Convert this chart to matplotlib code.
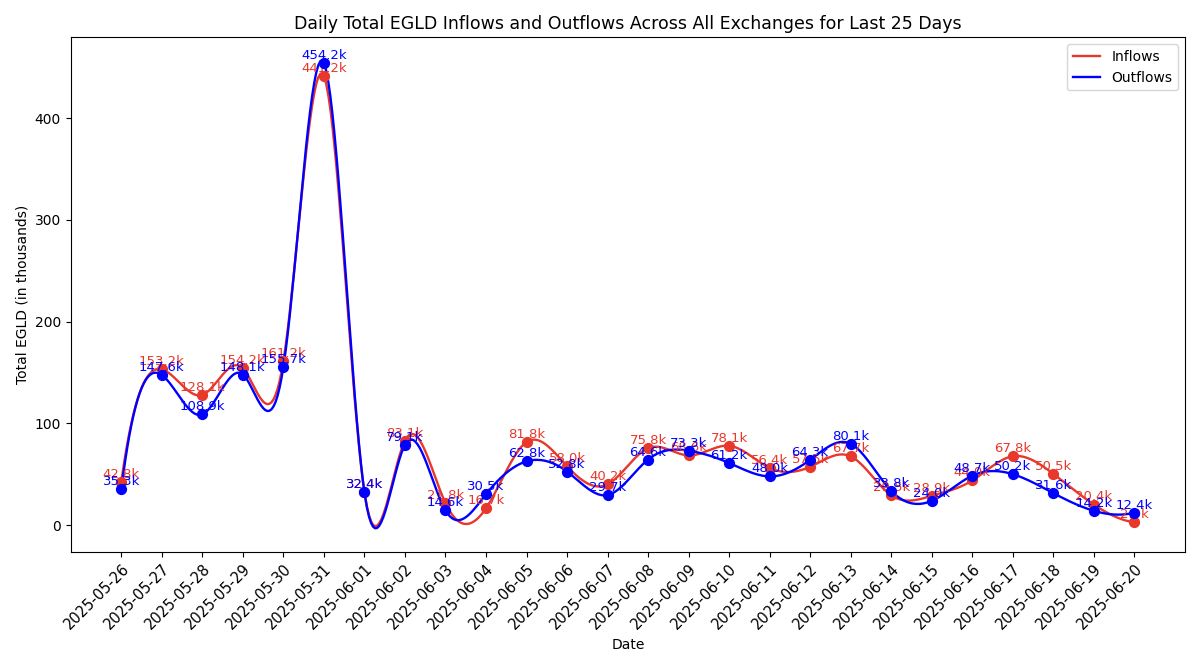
import matplotlib
matplotlib.use("Agg")
import matplotlib.pyplot as plt
import numpy as np
import pandas as pd

dates = pd.date_range("2025-05-26", "2025-06-20").strftime("%Y-%m-%d").tolist()
inflows = [42.8, 153.2, 128.1, 154.2, 161.2, 441.2, 32.4, 83.1, 21.8, 16.7,
           81.8, 58.0, 40.2, 75.8, 68.6, 78.1, 56.4, 57.5, 67.7, 29.5,
           28.9, 44.0, 67.8, 50.5, 20.4, 2.9]
outflows = [35.3, 147.6, 108.9, 148.1, 155.7, 454.2, 32.4, 79.1, 14.6, 30.5,
            62.8, 52.8, 29.7, 64.6, 73.3, 61.2, 48.0, 64.3, 80.1, 33.8,
            24.0, 48.7, 50.2, 31.6, 14.2, 12.4]


def spline(y, num=500):
    # not-a-knot cubic spline on unit-spaced x
    y = np.asarray(y, float)
    n = len(y)
    A = np.zeros((n, n))
    b = np.zeros(n)
    A[0, :3] = [1, -2, 1]
    A[-1, -3:] = [1, -2, 1]
    for i in range(1, n - 1):
        A[i, i - 1:i + 2] = [1, 4, 1]
        b[i] = 6 * (y[i + 1] - 2 * y[i] + y[i - 1])
    M = np.linalg.solve(A, b)
    xs = np.linspace(0, n - 1, num)
    i = np.clip(np.floor(xs).astype(int), 0, n - 2)
    t = xs - i
    ys = (M[i] * (1 - t) ** 3 / 6 + M[i + 1] * t ** 3 / 6
          + (y[i] - M[i] / 6) * (1 - t) + (y[i + 1] - M[i + 1] / 6) * t)
    return xs, ys


x = np.arange(len(dates))
fig, ax = plt.subplots(figsize=(12, 6.67), dpi=100)

for vals, color, name in [(inflows, "#e8372b", "Inflows"), (outflows, "blue", "Outflows")]:
    xs, ys = spline(vals)
    ax.plot(xs, ys, color=color, label=name, linewidth=1.7)
    ax.scatter(x, vals, color=color, s=50, zorder=3)
    for xi, v in zip(x, vals):
        ax.text(xi, v + 1, f"{v:.1f}k", color=color, ha="center", va="bottom", fontsize=9.5)

ax.set_xticks(x)
ax.set_xticklabels(dates, rotation=45, ha="right", rotation_mode="anchor", fontsize=10.5)
ax.set_title("Daily Total EGLD Inflows and Outflows Across All Exchanges for Last 25 Days", fontsize=12.5)
ax.set_xlabel("Date")
ax.set_ylabel("Total EGLD (in thousands)")
ax.legend(loc="upper right")
plt.tight_layout()
plt.savefig("out.png")
